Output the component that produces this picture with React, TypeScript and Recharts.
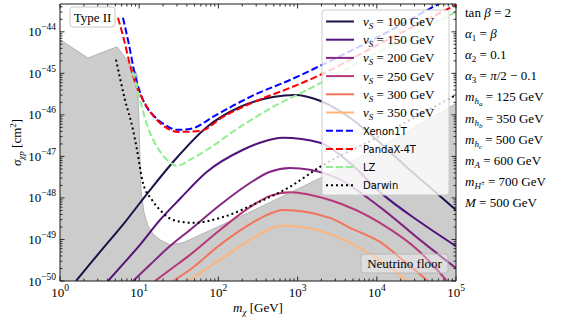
import React from 'react';
import { ComposedChart, Line, Area, XAxis, YAxis } from 'recharts';

// All values are log10: mass in GeV, cross section in cm^2
const floorLogMass = [0, 0.354, 0.72, 0.972, 0.997, 1.01, 1.023, 1.061, 1.111, 1.174, 1.263, 1.389, 1.553, 2.399, 3.321, 4.167, 5.0];
const floorLogSigma = [-44.19, -44.63, -44.36, -45.01, -46.12, -47.08, -47.81, -48.36, -48.67, -48.87, -49.01, -49.13, -49.08, -48.34, -47.49, -46.63, -45.73];

const xenonLogMass = [0.795, 0.871, 0.947, 1.048, 1.199, 1.326, 1.477, 1.641, 1.957, 2.273, 2.487, 2.904, 3.283, 4.04, 4.76, 5.0];
const xenonLogSigma = [-43.66, -44.31, -45.04, -45.64, -46.05, -46.24, -46.36, -46.34, -46.02, -45.69, -45.49, -45.16, -44.82, -44.1, -43.35, -43.11];

const pandaLogMass = [0.732, 0.808, 0.884, 0.96, 1.048, 1.199, 1.326, 1.49, 1.768, 2.058, 2.487, 2.904, 3.283, 4.015, 5.0];
const pandaLogSigma = [-43.66, -44.19, -44.8, -45.28, -45.64, -46.07, -46.29, -46.41, -46.39, -46.05, -45.66, -45.35, -45.04, -44.31, -43.35];

const lzLogMass = [0.922, 0.972, 1.01, 1.111, 1.225, 1.351, 1.477, 1.641, 1.856, 2.273, 2.689, 3.119, 3.914, 5.0];
const lzLogSigma = [-44.96, -45.35, -45.64, -46.31, -46.77, -47.08, -47.23, -47.08, -46.84, -46.29, -45.81, -45.4, -44.6, -43.52];

const darwinLogMass = [0.707, 0.821, 0.922, 0.972, 1.048, 1.162, 1.263, 1.427, 1.679, 2.058, 2.487, 2.904, 3.283, 4.04, 5.0];
const darwinLogSigma = [-44.67, -45.64, -46.36, -46.84, -47.64, -48.05, -48.29, -48.53, -48.6, -48.46, -48.12, -47.73, -47.25, -46.51, -45.52];

const v100LogMass = [0.202, 0.379, 0.505, 0.821, 1.136, 1.452, 1.856, 2.273, 2.689, 2.967, 3.283, 3.662, 4.04, 4.419, 4.71, 5.0];
const v100LogSigma = [-50.0, -49.59, -49.3, -48.58, -47.81, -47.08, -46.29, -45.81, -45.57, -45.52, -45.66, -46.07, -46.67, -47.33, -47.81, -48.29];

const v150LogMass = [0.606, 0.821, 1.01, 1.263, 1.515, 1.856, 2.311, 2.525, 2.816, 3.283, 3.662, 4.04, 4.545, 5.0];
const v150LogSigma = [-50.0, -49.54, -49.13, -48.53, -48.02, -47.37, -46.84, -46.67, -46.55, -46.67, -47.16, -47.86, -48.58, -49.16];

const v200LogMass = [0.922, 1.136, 1.389, 1.641, 2.02, 2.399, 2.652, 2.904, 3.409, 4.04, 4.545, 5.0];
const v200LogSigma = [-50.0, -49.61, -49.16, -48.77, -48.17, -47.64, -47.37, -47.28, -47.45, -48.22, -49.01, -49.69];

const v250LogMass = [1.199, 1.389, 1.641, 2.02, 2.399, 2.652, 2.904, 3.409, 4.04, 4.545, 4.886];
const v250LogSigma = [-50.0, -49.73, -49.37, -48.77, -48.22, -47.95, -47.86, -48.05, -48.6, -49.3, -50.0];

const v300LogMass = [1.427, 1.641, 2.02, 2.399, 2.589, 2.816, 3.409, 3.662, 4.04, 4.356, 4.646];
const v300LogSigma = [-50.0, -49.73, -49.13, -48.63, -48.43, -48.29, -48.48, -48.72, -49.06, -49.54, -50.0];

const v350LogMass = [1.616, 2.02, 2.399, 2.816, 3.119, 3.409, 3.662, 4.04, 4.381];
const v350LogSigma = [-50.0, -49.49, -49.01, -48.67, -48.72, -48.87, -49.08, -49.49, -50.0];

const xMajorExponents = [0, 1, 2, 3, 4, 5];
const yMajorExponents = [-50, -49, -48, -47, -46, -45, -44];
const vsValues = [100, 150, 200, 250, 300, 350];
const paramLines = [
  'tanb', 'a1', 'a2', 'a3', 'mha', 'mhb', 'mhc', 'mA', 'mH', 'M',
];

const X_DOMAIN: [number, number] = [0, 5];
const Y_DOMAIN: [number, number] = [-50, -43.33];

const build = (xs: number[], ys: number[]) => xs.map((x, i) => ({ x, y: ys[i] }));

const xTicks: number[] = [];
for (const n of xMajorExponents) {
  xTicks.push(n);
  if (n < 5) for (let k = 2; k <= 9; k++) xTicks.push(n + Math.log10(k));
}
const yTicks: number[] = [];
for (const n of yMajorExponents) {
  yTicks.push(n);
  for (let k = 2; k <= 9; k++) {
    const v = n + Math.log10(k);
    if (v <= Y_DOMAIN[1]) yTicks.push(v);
  }
}

const isMajor = (v: number) => Math.abs(v - Math.round(v)) < 1e-6;
const SERIF = '"Liberation Serif", "DejaVu Serif", serif';
const SANS = '"DejaVu Sans", sans-serif';
const AX = '#1a1a1a';

const expLabel = (n: number) => (n < 0 ? '\u2212' + Math.abs(n) : String(n));

const BottomTick = (p: any) => {
  const { x, y, payload } = p;
  const v = payload.value;
  const maj = isMajor(v);
  return (
    <g>
      <line x1={x} x2={x} y1={y} y2={y - (maj ? 4.5 : 2.5)} stroke={AX} strokeWidth={0.9} />
      {maj && (
        <text x={x} y={y + 16} textAnchor="middle" fontFamily={SERIF} fontSize={13} fill="#000">
          10<tspan dy={-6} fontSize={9.5}>{expLabel(Math.round(v))}</tspan>
        </text>
      )}
    </g>
  );
};
const TopTick = (p: any) => {
  const { x, y, payload } = p;
  const maj = isMajor(payload.value);
  return <line x1={x} x2={x} y1={y} y2={y + (maj ? 4.5 : 2.5)} stroke={AX} strokeWidth={0.9} />;
};
const LeftTick = (p: any) => {
  const { x, y, payload } = p;
  const v = payload.value;
  const maj = isMajor(v);
  return (
    <g>
      <line x1={x} x2={x + (maj ? 4.5 : 2.5)} y1={y} y2={y} stroke={AX} strokeWidth={0.9} />
      {maj && (
        <text x={x - 4} y={y + 4.5} textAnchor="end" fontFamily={SERIF} fontSize={13} fill="#000">
          10<tspan dy={-6} fontSize={9.5}>{expLabel(Math.round(v))}</tspan>
        </text>
      )}
    </g>
  );
};
const RightTick = (p: any) => {
  const { x, y, payload } = p;
  const maj = isMajor(payload.value);
  return <line x1={x} x2={x - (maj ? 4.5 : 2.5)} y1={y} y2={y} stroke={AX} strokeWidth={0.9} />;
};

const vColors = ['#1d1147', '#51127c', '#832681', '#b73779', '#f4735c', '#feb47b'];
const vData = [
  build(v100LogMass, v100LogSigma),
  build(v150LogMass, v150LogSigma),
  build(v200LogMass, v200LogSigma),
  build(v250LogMass, v250LogSigma),
  build(v300LogMass, v300LogSigma),
  build(v350LogMass, v350LogSigma),
];

const expSeries = [
  { name: 'Xenon1T', color: '#0000ff', dash: '7 3', data: build(xenonLogMass, xenonLogSigma) },
  { name: 'PandaX-4T', color: '#ff0000', dash: '7 3', data: build(pandaLogMass, pandaLogSigma) },
  { name: 'LZ', color: '#90ee90', dash: '7 3', data: build(lzLogMass, lzLogSigma) },
  { name: 'Darwin', color: '#000000', dash: '2 3', data: build(darwinLogMass, darwinLogSigma) },
];

const floorData = build(floorLogMass, floorLogSigma);

const Sub = ({ children, size = 9 }: any) => (
  <tspan dy={3} fontSize={size}>{children}</tspan>
);

const ParamText = ({ id, y }: { id: string; y: number }) => {
  const common = { x: 465, y, fontFamily: SERIF, fontSize: 13, fill: '#000' } as any;
  switch (id) {
    case 'tanb':
      return <text {...common}>tan <tspan fontStyle="italic">β</tspan> = 2</text>;
    case 'a1':
      return <text {...common}><tspan fontStyle="italic">α</tspan><tspan dy={3} fontSize={9}>1</tspan><tspan dy={-3}> = </tspan><tspan fontStyle="italic">β</tspan></text>;
    case 'a2':
      return <text {...common}><tspan fontStyle="italic">α</tspan><tspan dy={3} fontSize={9}>2</tspan><tspan dy={-3}> = 0.1</tspan></text>;
    case 'a3':
      return <text {...common}><tspan fontStyle="italic">α</tspan><tspan dy={3} fontSize={9}>3</tspan><tspan dy={-3}> = </tspan><tspan fontStyle="italic">π</tspan>/2 − 0.1</text>;
    case 'mha':
    case 'mhb':
    case 'mhc': {
      const s = id === 'mha' ? 'a' : id === 'mhb' ? 'b' : 'c';
      const val = id === 'mha' ? '125' : id === 'mhb' ? '350' : '500';
      return (
        <text {...common}>
          <tspan fontStyle="italic">m</tspan>
          <tspan dy={3} fontSize={9} fontStyle="italic">h</tspan>
          <tspan dy={2} fontSize={7} fontStyle="italic">{s}</tspan>
          <tspan dy={-5}> = {val} GeV</tspan>
        </text>
      );
    }
    case 'mA':
      return <text {...common}><tspan fontStyle="italic">m</tspan><tspan dy={3} fontSize={9} fontStyle="italic">A</tspan><tspan dy={-3}> = 600 GeV</tspan></text>;
    case 'mH':
      return (
        <text {...common}>
          <tspan fontStyle="italic">m</tspan>
          <tspan dy={3} fontSize={9} fontStyle="italic">H</tspan>
          <tspan dy={-4} fontSize={7}>±</tspan>
          <tspan dy={1}> = 700 GeV</tspan>
        </text>
      );
    default:
      return <text {...common}><tspan fontStyle="italic">M</tspan> = 500 GeV</text>;
  }
};

const Overlay = () => {
  const lx = 322;
  const ly = 10;
  const rowY = (i: number) => 21.5 + 18.2 * i;
  return (
    <svg width={565} height={320} style={{ position: 'absolute', left: 0, top: 0, pointerEvents: 'none' }}>
      {/* Type II box */}
      <rect x={70} y={7} width={45} height={20} rx={3} fill="#ffffff" fillOpacity={0.8} stroke="#c8c8c8" />
      <text x={92.5} y={22} textAnchor="middle" fontFamily={SERIF} fontSize={13}>Type II</text>
      {/* Neutrino floor box */}
      <rect x={361} y={254} width={87} height={19} rx={3} fill="#ffffff" fillOpacity={0.35} stroke="#b8b8b8" />
      <text x={404.5} y={268} textAnchor="middle" fontFamily={SERIF} fontSize={13}>Neutrino floor</text>
      {/* Legend */}
      <rect x={lx} y={ly} width={127} height={185} rx={3} fill="#ffffff" fillOpacity={0.8} stroke="#cccccc" />
      {vsValues.map((v, i) => (
        <g key={v}>
          <line x1={326} x2={354} y1={rowY(i)} y2={rowY(i)} stroke={vColors[i]} strokeWidth={2} />
          <text x={363} y={rowY(i) + 4.5} fontFamily={SERIF} fontSize={13}>
            <tspan fontStyle="italic">v</tspan>
            <tspan dy={3} fontSize={9} fontStyle="italic">S</tspan>
            <tspan dy={-3}> = {v} GeV</tspan>
          </text>
        </g>
      ))}
      {expSeries.map((s, j) => (
        <g key={s.name}>
          <line x1={326} x2={354} y1={rowY(6 + j)} y2={rowY(6 + j)} stroke={s.color} strokeWidth={2} strokeDasharray={s.dash} />
          <text x={363} y={rowY(6 + j) + 4} fontFamily={SANS} fontSize={10}>{s.name}</text>
        </g>
      ))}
      {/* Parameter panel */}
      {paramLines.map((id, i) => (
        <ParamText key={id} id={id} y={17 + 21.1 * i} />
      ))}
      {/* Axis labels */}
      <text x={258} y={312} textAnchor="middle" fontFamily={SERIF} fontSize={13}>
        <tspan fontStyle="italic">m</tspan>
        <tspan dy={3} fontSize={9} fontStyle="italic">χ</tspan>
        <tspan dy={-3}> [GeV]</tspan>
      </text>
      <text transform="translate(21,142.5) rotate(-90)" textAnchor="middle" fontFamily={SERIF} fontSize={13}>
        <tspan fontStyle="italic">σ</tspan>
        <tspan dy={3} fontSize={9} fontStyle="italic">χp</tspan>
        <tspan dy={-3}> [cm</tspan>
        <tspan dy={-5} fontSize={9}>2</tspan>
        <tspan dy={5}>]</tspan>
      </text>
    </svg>
  );
};

export default function App() {
  return (
    <div style={{ position: 'absolute', left: 0, top: 0, width: 565, height: 320, background: '#fff' }}>
      <ComposedChart width={565} height={320} margin={{ top: 0, right: 0, bottom: 0, left: 0 }}>
        <XAxis xAxisId="b" type="number" dataKey="x" domain={X_DOMAIN} ticks={xTicks} interval={0}
          allowDataOverflow tickSize={0} tickMargin={0} height={39} tick={<BottomTick />}
          tickLine={false} axisLine={{ stroke: AX, strokeWidth: 1 }} />
        <XAxis xAxisId="t" orientation="top" type="number" dataKey="x" domain={X_DOMAIN} ticks={xTicks} interval={0}
          allowDataOverflow tickSize={0} tickMargin={0} height={4} tick={<TopTick />}
          tickLine={false} axisLine={{ stroke: AX, strokeWidth: 1 }} />
        <YAxis yAxisId="l" type="number" dataKey="y" domain={Y_DOMAIN} ticks={yTicks} interval={0}
          allowDataOverflow tickSize={0} tickMargin={0} width={60} tick={<LeftTick />}
          tickLine={false} axisLine={{ stroke: AX, strokeWidth: 1 }} />
        <YAxis yAxisId="r" orientation="right" type="number" dataKey="y" domain={Y_DOMAIN} ticks={yTicks} interval={0}
          allowDataOverflow tickSize={0} tickMargin={0} width={109} tick={<RightTick />}
          tickLine={false} axisLine={{ stroke: AX, strokeWidth: 1 }} />
        <Area xAxisId="b" yAxisId="l" data={floorData} dataKey="y" type="linear" baseValue={-50}
          fill="#cccccc" fillOpacity={1} stroke="#b4b4b4" strokeWidth={1} isAnimationActive={false} dot={false} activeDot={false} />
        {vData.map((d, i) => (
          <Line key={'v' + i} xAxisId="b" yAxisId="l" data={d} dataKey="y" type="monotone"
            stroke={vColors[i]} strokeWidth={2} dot={false} activeDot={false} isAnimationActive={false} />
        ))}
        {expSeries.map((s) => (
          <Line key={s.name} xAxisId="b" yAxisId="l" data={s.data} dataKey="y" type="monotone"
            stroke={s.color} strokeWidth={2} strokeDasharray={s.dash} dot={false} activeDot={false} isAnimationActive={false} />
        ))}
      </ComposedChart>
      <Overlay />
    </div>
  );
}
